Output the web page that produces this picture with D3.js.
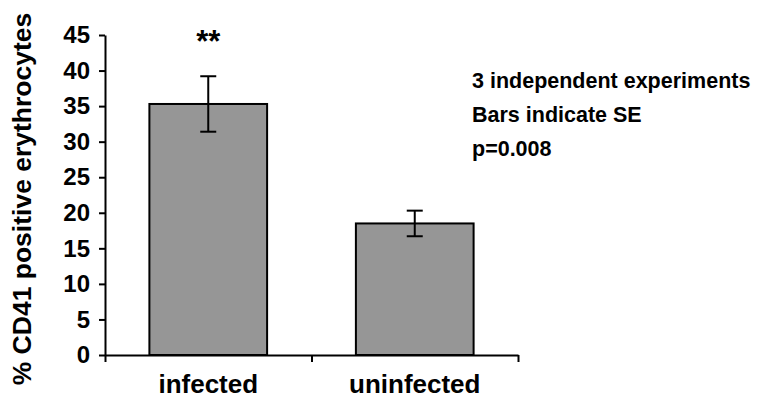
<!DOCTYPE html>
<html>
<head>
<meta charset="utf-8">
<script src="https://cdn.jsdelivr.net/npm/d3@7"></script>
<style>
  body { margin: 0; background: #fff; }
  svg { display: block; font-family: Arial, "Liberation Sans", sans-serif; font-weight: bold; }
  .axis path, .axis line { stroke: #000; stroke-width: 2; }
  .axis text { fill: #000; font-size: 24px; font-family: Arial, "Liberation Sans", sans-serif; font-weight: bold; }
</style>
</head>
<body>
<svg id="chart" width="772" height="399"></svg>
<script>
// chart values
const categories = ['infected', 'uninfected'];
const means = [35.3, 18.5];
const errors = [3.9, 1.8];
const sigMarks = ['**', ''];
const yTicks = [0, 5, 10, 15, 20, 25, 30, 35, 40, 45];
const notes = ['3 independent experiments', 'Bars indicate SE', 'p=0.008'];
const yTitle = '% CD41 positive erythrocytes';

const svg = d3.select('#chart');
const data = categories.map((c, i) => ({cat: c, mean: means[i], se: errors[i], sig: sigMarks[i]}));

const y = d3.scaleLinear().domain([0, 45]).range([355, 35]);
const x = d3.scaleBand().domain(categories).range([105, 518]).padding(0);
const xEdge = d3.scaleLinear().domain([0, categories.length]).range([105, 518]);
const barW = x.bandwidth() * 0.57;

// bars
svg.append('g')
  .selectAll('rect')
  .data(data)
  .enter()
  .append('rect')
  .attr('x', d => x(d.cat) + (x.bandwidth() - barW) / 2)
  .attr('y', d => y(d.mean))
  .attr('width', barW)
  .attr('height', d => y(0) - y(d.mean))
  .attr('fill', '#969696')
  .attr('stroke', '#000')
  .attr('stroke-width', 2);

// error bars
const eb = svg.append('g').attr('stroke', '#000').attr('stroke-width', 2);
data.forEach(d => {
  const cx = x(d.cat) + x.bandwidth() / 2;
  eb.append('line').attr('x1', cx).attr('x2', cx).attr('y1', y(d.mean + d.se)).attr('y2', y(d.mean - d.se));
  eb.append('line').attr('x1', cx - 8).attr('x2', cx + 8).attr('y1', y(d.mean + d.se)).attr('y2', y(d.mean + d.se));
  eb.append('line').attr('x1', cx - 8).attr('x2', cx + 8).attr('y1', y(d.mean - d.se)).attr('y2', y(d.mean - d.se));
});

// axes
svg.append('g')
  .attr('class', 'axis')
  .attr('transform', 'translate(105,0)')
  .call(d3.axisLeft(y).tickValues(yTicks).tickSize(6).tickSizeOuter(0).tickPadding(9));

svg.append('g')
  .attr('class', 'axis')
  .attr('transform', `translate(0,${y(0)})`)
  .call(d3.axisBottom(xEdge).tickValues(d3.range(categories.length + 1)).tickSize(7).tickSizeOuter(0).tickFormat(''));

// category labels
svg.append('g')
  .selectAll('text')
  .data(data)
  .enter()
  .append('text')
  .attr('x', d => x(d.cat) + x.bandwidth() / 2)
  .attr('y', 393)
  .attr('text-anchor', 'middle')
  .attr('font-size', 26)
  .text(d => d.cat);

// significance stars
svg.append('g')
  .selectAll('text')
  .data(data)
  .enter()
  .append('text')
  .attr('x', d => x(d.cat) + x.bandwidth() / 2)
  .attr('y', 52)
  .attr('text-anchor', 'middle')
  .attr('font-size', 31)
  .text(d => d.sig);

// y title
svg.append('text')
  .attr('transform', 'translate(31,199) rotate(-90)')
  .attr('text-anchor', 'middle')
  .attr('font-size', 26.5)
  .text(yTitle);

// notes
svg.append('g')
  .selectAll('text')
  .data(notes)
  .enter()
  .append('text')
  .attr('x', 472)
  .attr('y', (d, i) => 88 + i * 34)
  .attr('font-size', 21.5)
  .text(d => d);
</script>
</body>
</html>
